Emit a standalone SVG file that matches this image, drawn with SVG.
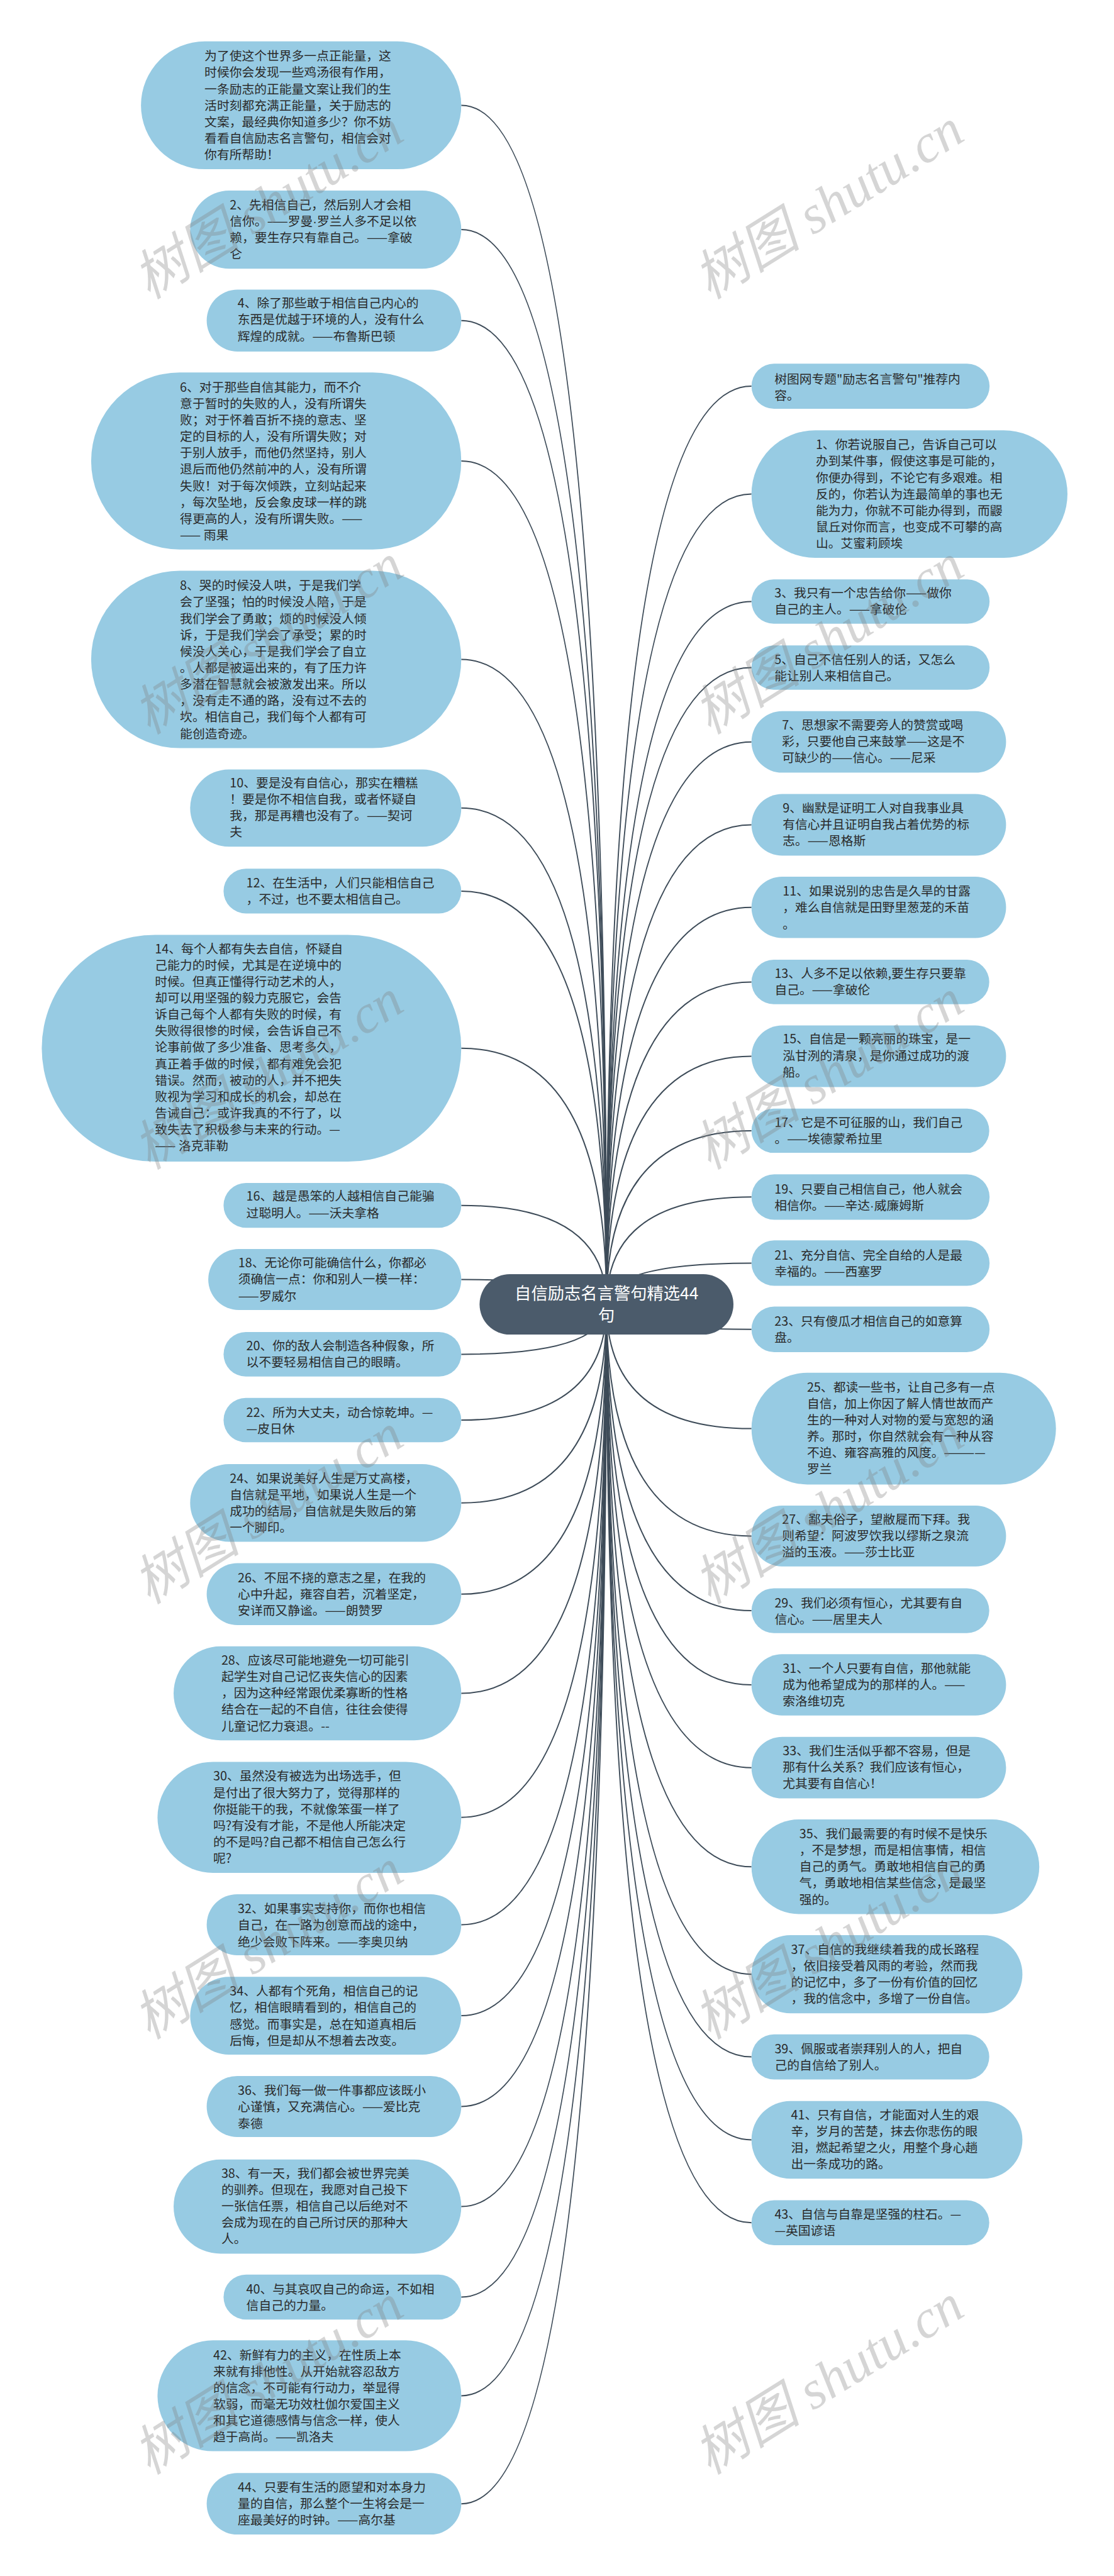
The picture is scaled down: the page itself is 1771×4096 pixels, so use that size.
<svg xmlns="http://www.w3.org/2000/svg" width="1771" height="4096" viewBox="0 0 1771 4096">
<style>
.n{fill:#97cbe3}
.c{fill:#4b5b6b}
.t{font-family:"Noto Sans CJK SC","Microsoft YaHei",sans-serif;font-size:19.8px;fill:#2a2a2a}
.ct{font-family:"Noto Sans CJK SC","Microsoft YaHei",sans-serif;font-size:26.3px;fill:#ffffff;text-anchor:middle}
.e{fill:none;stroke:#3d4b58;stroke-width:2}
.d{font-family:"Liberation Sans",sans-serif}
.wm{font-family:"Liberation Serif","Noto Sans CJK SC",serif;font-style:italic;font-size:86px;fill:#808080;fill-opacity:0.33}
</style>
<rect width="1771" height="4096" fill="#ffffff"/>
<g id="connectors">
<path class="e" d="M964.2 2074 Q964.2 167.4 733.3 167.4"/>
<path class="e" d="M964.2 2074 Q964.2 365.1 733.3 365.1"/>
<path class="e" d="M964.2 2074 Q964.2 509.7 733.3 509.7"/>
<path class="e" d="M964.2 2074 Q964.2 733 733.3 733"/>
<path class="e" d="M964.2 2074 Q964.2 1048.6 733.3 1048.6"/>
<path class="e" d="M964.2 2074 Q964.2 1284.8 733.3 1284.8"/>
<path class="e" d="M964.2 2074 Q964.2 1416.9 733.3 1416.9"/>
<path class="e" d="M964.2 2074 Q964.2 1666.8 733.3 1666.8"/>
<path class="e" d="M964.2 2074 Q964.2 1916.7 733.3 1916.7"/>
<path class="e" d="M964.2 2074 Q964.2 2034.6 733.3 2034.6"/>
<path class="e" d="M964.2 2074 Q964.2 2153.4 733.3 2153.4"/>
<path class="e" d="M964.2 2074 Q964.2 2258 733.3 2258"/>
<path class="e" d="M964.2 2074 Q964.2 2389.7 733.3 2389.7"/>
<path class="e" d="M964.2 2074 Q964.2 2534.8 733.3 2534.8"/>
<path class="e" d="M964.2 2074 Q964.2 2692.5 733.3 2692.5"/>
<path class="e" d="M964.2 2074 Q964.2 2889.7 733.3 2889.7"/>
<path class="e" d="M964.2 2074 Q964.2 3060.5 733.3 3060.5"/>
<path class="e" d="M964.2 2074 Q964.2 3205.1 733.3 3205.1"/>
<path class="e" d="M964.2 2074 Q964.2 3349.4 733.3 3349.4"/>
<path class="e" d="M964.2 2074 Q964.2 3508.6 733.3 3508.6"/>
<path class="e" d="M964.2 2074 Q964.2 3652.5 733.3 3652.5"/>
<path class="e" d="M964.2 2074 Q964.2 3809.4 733.3 3809.4"/>
<path class="e" d="M964.2 2074 Q964.2 3981.2 733.3 3981.2"/>
<path class="e" d="M964.2 2074 Q964.2 614.1 1194.7 614.1"/>
<path class="e" d="M964.2 2074 Q964.2 785.6 1194.7 785.6"/>
<path class="e" d="M964.2 2074 Q964.2 956.5 1194.7 956.5"/>
<path class="e" d="M964.2 2074 Q964.2 1061.5 1194.7 1061.5"/>
<path class="e" d="M964.2 2074 Q964.2 1179.7 1194.7 1179.7"/>
<path class="e" d="M964.2 2074 Q964.2 1311.5 1194.7 1311.5"/>
<path class="e" d="M964.2 2074 Q964.2 1442.8 1194.7 1442.8"/>
<path class="e" d="M964.2 2074 Q964.2 1561.4 1194.7 1561.4"/>
<path class="e" d="M964.2 2074 Q964.2 1679.6 1194.7 1679.6"/>
<path class="e" d="M964.2 2074 Q964.2 1797.9 1194.7 1797.9"/>
<path class="e" d="M964.2 2074 Q964.2 1903.3 1194.7 1903.3"/>
<path class="e" d="M964.2 2074 Q964.2 2008.5 1194.7 2008.5"/>
<path class="e" d="M964.2 2074 Q964.2 2113.7 1194.7 2113.7"/>
<path class="e" d="M964.2 2074 Q964.2 2271.6 1194.7 2271.6"/>
<path class="e" d="M964.2 2074 Q964.2 2442.4 1194.7 2442.4"/>
<path class="e" d="M964.2 2074 Q964.2 2561.1 1194.7 2561.1"/>
<path class="e" d="M964.2 2074 Q964.2 2679 1194.7 2679"/>
<path class="e" d="M964.2 2074 Q964.2 2810.7 1194.7 2810.7"/>
<path class="e" d="M964.2 2074 Q964.2 2968.3 1194.7 2968.3"/>
<path class="e" d="M964.2 2074 Q964.2 3139.2 1194.7 3139.2"/>
<path class="e" d="M964.2 2074 Q964.2 3270.6 1194.7 3270.6"/>
<path class="e" d="M964.2 2074 Q964.2 3402.5 1194.7 3402.5"/>
<path class="e" d="M964.2 2074 Q964.2 3534.3 1194.7 3534.3"/>
</g>
<g id="center">
<rect class="c" x="762.4" y="2026" width="403.6" height="96.1" rx="48" ry="48"/>
<text class="ct" x="964.2" y="2066.1">自信励志名言警句精选44<tspan x="964.2" dy="35">句</tspan></text>
</g>
<g id="intro">
<rect class="n" x="224.1" y="65.7" width="509.2" height="203.4" rx="101.7"/>
<text class="t" x="325.1" y="96.3">为了使这个世界多一点正能量，这<tspan x="325.1" dy="26.15">时候你会发现一些鸡汤很有作用，</tspan><tspan x="325.1" dy="26.15">一条励志的正能量文案让我们的生</tspan><tspan x="325.1" dy="26.15">活时刻都充满正能量，关于励志的</tspan><tspan x="325.1" dy="26.15">文案，最经典你知道多少？你不妨</tspan><tspan x="325.1" dy="26.15">看看自信励志名言警句，相信会对</tspan><tspan x="325.1" dy="26.15">你有所帮助！</tspan></text>
</g>
<g id="n2">
<rect class="n" x="302.3" y="303" width="431" height="124.2" rx="62.1"/>
<text class="t" x="365.3" y="332.8">2、先相信自己，然后别人才会相<tspan x="365.3" dy="26.15">信你。——罗曼<tspan class="d">·</tspan>罗兰人多不足以依</tspan><tspan x="365.3" dy="26.15">赖，要生存只有靠自己。——拿破</tspan><tspan x="365.3" dy="26.15">仑</tspan></text>
</g>
<g id="n4">
<rect class="n" x="328.6" y="460.4" width="404.7" height="98.6" rx="49.3"/>
<text class="t" x="377.7" y="489.2">4、除了那些敢于相信自己内心的<tspan x="377.7" dy="26.15">东西是优越于环境的人，没有什么</tspan><tspan x="377.7" dy="26.15">辉煌的成就。——布鲁斯巴顿</tspan></text>
</g>
<g id="n6">
<rect class="n" x="144.9" y="592.2" width="588.4" height="281.5" rx="140.7"/>
<text class="t" x="286.1" y="622.7">6、对于那些自信其能力，而不介<tspan x="286.1" dy="26.15">意于暂时的失败的人，没有所谓失</tspan><tspan x="286.1" dy="26.15">败；对于怀着百折不挠的意志、坚</tspan><tspan x="286.1" dy="26.15">定的目标的人，没有所谓失败；对</tspan><tspan x="286.1" dy="26.15">于别人放手，而他仍然坚持，别人</tspan><tspan x="286.1" dy="26.15">退后而他仍然前冲的人，没有所谓</tspan><tspan x="286.1" dy="26.15">失败！对于每次倾跌，立刻站起来</tspan><tspan x="286.1" dy="26.15">，每次坠地，反会象皮球一样的跳</tspan><tspan x="286.1" dy="26.15">得更高的人，没有所谓失败。——</tspan><tspan x="286.1" dy="26.15">—— 雨果</tspan></text>
</g>
<g id="n8">
<rect class="n" x="144.9" y="907.6" width="588.4" height="282" rx="141"/>
<text class="t" x="286.1" y="938.2">8、哭的时候没人哄，于是我们学<tspan x="286.1" dy="26.15">会了坚强；怕的时候没人陪，于是</tspan><tspan x="286.1" dy="26.15">我们学会了勇敢；烦的时候没人倾</tspan><tspan x="286.1" dy="26.15">诉，于是我们学会了承受；累的时</tspan><tspan x="286.1" dy="26.15">候没人关心，于是我们学会了自立</tspan><tspan x="286.1" dy="26.15">。人都是被逼出来的，有了压力许</tspan><tspan x="286.1" dy="26.15">多潜在智慧就会被激发出来。所以</tspan><tspan x="286.1" dy="26.15">，没有走不通的路，没有过不去的</tspan><tspan x="286.1" dy="26.15">坎。相信自己，我们每个人都有可</tspan><tspan x="286.1" dy="26.15">能创造奇迹。</tspan></text>
</g>
<g id="n10">
<rect class="n" x="302.3" y="1223.4" width="431" height="122.8" rx="61.4"/>
<text class="t" x="365.3" y="1251.5">10、要是没有自信心，那实在糟糕<tspan x="365.3" dy="26.15">！要是你不相信自我，或者怀疑自</tspan><tspan x="365.3" dy="26.15">我，那是再糟也没有了。——契诃</tspan><tspan x="365.3" dy="26.15">夫</tspan></text>
</g>
<g id="n12">
<rect class="n" x="355.4" y="1381.3" width="377.9" height="71.2" rx="35.6"/>
<text class="t" x="391.6" y="1410.7">12、在生活中，人们只能相信自己<tspan x="391.6" dy="26.15">，不过，也不要太相信自己。</tspan></text>
</g>
<g id="n14">
<rect class="n" x="66.4" y="1486.4" width="666.9" height="360.7" rx="180.3"/>
<text class="t" x="246.3" y="1515.5">14、每个人都有失去自信，怀疑自<tspan x="246.3" dy="26.15">己能力的时候，尤其是在逆境中的</tspan><tspan x="246.3" dy="26.15">时候。但真正懂得行动艺术的人，</tspan><tspan x="246.3" dy="26.15">却可以用坚强的毅力克服它，会告</tspan><tspan x="246.3" dy="26.15">诉自己每个人都有失败的时候，有</tspan><tspan x="246.3" dy="26.15">失败得很惨的时候，会告诉自己不</tspan><tspan x="246.3" dy="26.15">论事前做了多少准备、思考多久，</tspan><tspan x="246.3" dy="26.15">真正着手做的时候，都有难免会犯</tspan><tspan x="246.3" dy="26.15">错误。然而，被动的人，并不把失</tspan><tspan x="246.3" dy="26.15">败视为学习和成长的机会，却总在</tspan><tspan x="246.3" dy="26.15">告诫自己：或许我真的不行了，以</tspan><tspan x="246.3" dy="26.15">致失去了积极参与未来的行动。—</tspan><tspan x="246.3" dy="26.15">—— 洛克菲勒</tspan></text>
</g>
<g id="n16">
<rect class="n" x="355.4" y="1881" width="377.9" height="71.3" rx="35.6"/>
<text class="t" x="391.6" y="1909.4">16、越是愚笨的人越相信自己能骗<tspan x="391.6" dy="26.15">过聪明人。——沃夫拿格</tspan></text>
</g>
<g id="n18">
<rect class="n" x="331.1" y="1986.1" width="402.2" height="96.9" rx="48.4"/>
<text class="t" x="378.8" y="2015.3">18、无论你可能确信什么，你都必<tspan x="378.8" dy="26.15">须确信一点：你和别人一模一样：</tspan><tspan x="378.8" dy="26.15">——罗威尔</tspan></text>
</g>
<g id="n20">
<rect class="n" x="355.4" y="2118" width="377.9" height="70.8" rx="35.4"/>
<text class="t" x="391.6" y="2147.1">20、你的敌人会制造各种假象，所<tspan x="391.6" dy="26.15">以不要轻易相信自己的眼睛。</tspan></text>
</g>
<g id="n22">
<rect class="n" x="355.4" y="2222.8" width="377.9" height="70.5" rx="35.2"/>
<text class="t" x="391.6" y="2252.9">22、所为大丈夫，动合惊乾坤。—<tspan x="391.6" dy="26.15">—皮日休</tspan></text>
</g>
<g id="n24">
<rect class="n" x="302.3" y="2327.9" width="431" height="123.6" rx="61.8"/>
<text class="t" x="365.3" y="2357.7">24、如果说美好人生是万丈高楼，<tspan x="365.3" dy="26.15">自信就是平地，如果说人生是一个</tspan><tspan x="365.3" dy="26.15">成功的结局，自信就是失败后的第</tspan><tspan x="365.3" dy="26.15">一个脚印。</tspan></text>
</g>
<g id="n26">
<rect class="n" x="328.6" y="2485.6" width="404.7" height="98.3" rx="49.1"/>
<text class="t" x="378.1" y="2515.9">26、不屈不挠的意志之星，在我的<tspan x="378.1" dy="26.15">心中升起，雍容自若，沉着坚定，</tspan><tspan x="378.1" dy="26.15">安详而又静谧。——朗赞罗</tspan></text>
</g>
<g id="n28">
<rect class="n" x="276" y="2617.8" width="457.3" height="149.4" rx="74.7"/>
<text class="t" x="351.9" y="2646.9">28、应该尽可能地避免一切可能引<tspan x="351.9" dy="26.15">起学生对自己记忆丧失信心的因素</tspan><tspan x="351.9" dy="26.15">，因为这种经常跟优柔寡断的性格</tspan><tspan x="351.9" dy="26.15">结合在一起的不自信，往往会使得</tspan><tspan x="351.9" dy="26.15">儿童记忆力衰退。--</tspan></text>
</g>
<g id="n30">
<rect class="n" x="250.4" y="2801.4" width="482.9" height="176.5" rx="88.2"/>
<text class="t" x="339" y="2831.4">30、虽然没有被选为出场选手，但<tspan x="339" dy="26.15">是付出了很大努力了，觉得那样的</tspan><tspan x="339" dy="26.15">你挺能干的我，不就像笨蛋一样了</tspan><tspan x="339" dy="26.15">吗?有没有才能，不是他人所能决定</tspan><tspan x="339" dy="26.15">的不是吗?自己都不相信自己怎么行</tspan><tspan x="339" dy="26.15">呢?</tspan></text>
</g>
<g id="n32">
<rect class="n" x="328.6" y="3011.9" width="404.7" height="97.1" rx="48.5"/>
<text class="t" x="378.1" y="3042.3">32、如果事实支持你，而你也相信<tspan x="378.1" dy="26.15">自己，在一路为创意而战的途中，</tspan><tspan x="378.1" dy="26.15">绝少会败下阵来。——李奥贝纳</tspan></text>
</g>
<g id="n34">
<rect class="n" x="302.3" y="3143.3" width="431" height="123.6" rx="61.8"/>
<text class="t" x="365.3" y="3173.3">34、人都有个死角，相信自己的记<tspan x="365.3" dy="26.15">忆，相信眼睛看到的，相信自己的</tspan><tspan x="365.3" dy="26.15">感觉。而事实是，总在知道真相后</tspan><tspan x="365.3" dy="26.15">后悔，但是却从不想着去改变。</tspan></text>
</g>
<g id="n36">
<rect class="n" x="328.6" y="3300.9" width="404.7" height="97" rx="48.5"/>
<text class="t" x="378.1" y="3331.2">36、我们每一做一件事都应该既小<tspan x="378.1" dy="26.15">心谨慎，又充满信心。——爱比克</tspan><tspan x="378.1" dy="26.15">泰德</tspan></text>
</g>
<g id="n38">
<rect class="n" x="276" y="3433.7" width="457.3" height="149.8" rx="74.9"/>
<text class="t" x="351.9" y="3462.6">38、有一天，我们都会被世界完美<tspan x="351.9" dy="26.15">的驯养。但现在，我愿对自己投下</tspan><tspan x="351.9" dy="26.15">一张信任票，相信自己以后绝对不</tspan><tspan x="351.9" dy="26.15">会成为现在的自己所讨厌的那种大</tspan><tspan x="351.9" dy="26.15">人。</tspan></text>
</g>
<g id="n40">
<rect class="n" x="355.4" y="3616.7" width="377.9" height="71.5" rx="35.7"/>
<text class="t" x="391.6" y="3646.6">40、与其哀叹自己的命运，不如相<tspan x="391.6" dy="26.15">信自己的力量。</tspan></text>
</g>
<g id="n42">
<rect class="n" x="250.4" y="3721.2" width="482.9" height="176.4" rx="88.2"/>
<text class="t" x="339" y="3751.7">42、新鲜有力的主义，在性质上本<tspan x="339" dy="26.15">来就有排他性。从开始就容忍敌方</tspan><tspan x="339" dy="26.15">的信念，不可能有行动力，举显得</tspan><tspan x="339" dy="26.15">软弱，而毫无功效杜伽尔爱国主义</tspan><tspan x="339" dy="26.15">和其它道德感情与信念一样，使人</tspan><tspan x="339" dy="26.15">趋于高尚。——凯洛夫</tspan></text>
</g>
<g id="n44">
<rect class="n" x="328.6" y="3932.2" width="404.7" height="97.9" rx="48.9"/>
<text class="t" x="378.1" y="3962">44、只要有生活的愿望和对本身力<tspan x="378.1" dy="26.15">量的自信，那么整个一生将会是一</tspan><tspan x="378.1" dy="26.15">座最美好的时钟。——高尔基</tspan></text>
</g>
<g id="rintro">
<rect class="n" x="1194.7" y="578.3" width="378.5" height="71.6" rx="35.8"/>
<text class="t" x="1231.2" y="609.6">树图网专题"励志名言警句"推荐内<tspan x="1231.2" dy="26.15">容。</tspan></text>
</g>
<g id="r1">
<rect class="n" x="1194.7" y="684.2" width="502.3" height="202.7" rx="101.3"/>
<text class="t" x="1296.9" y="714.2">1、你若说服自己，告诉自己可以<tspan x="1296.9" dy="26.15">办到某件事，假使这事是可能的，</tspan><tspan x="1296.9" dy="26.15">你便办得到，不论它有多艰难。相</tspan><tspan x="1296.9" dy="26.15">反的，你若认为连最简单的事也无</tspan><tspan x="1296.9" dy="26.15">能为力，你就不可能办得到，而鼹</tspan><tspan x="1296.9" dy="26.15">鼠丘对你而言，也变成不可攀的高</tspan><tspan x="1296.9" dy="26.15">山。艾蜜莉顾埃</tspan></text>
</g>
<g id="r3">
<rect class="n" x="1194.7" y="921.2" width="378.5" height="70.6" rx="35.3"/>
<text class="t" x="1231.2" y="950.3">3、我只有一个忠告给你——做你<tspan x="1231.2" dy="26.15">自己的主人。——拿破伦</tspan></text>
</g>
<g id="r5">
<rect class="n" x="1194.7" y="1026.2" width="378.5" height="70.6" rx="35.3"/>
<text class="t" x="1231.2" y="1056.2">5、自己不信任别人的话，又怎么<tspan x="1231.2" dy="26.15">能让别人来相信自己。</tspan></text>
</g>
<g id="r7">
<rect class="n" x="1194.7" y="1130.8" width="404.7" height="97.8" rx="48.9"/>
<text class="t" x="1243.2" y="1159.9">7、思想家不需要旁人的赞赏或喝<tspan x="1243.2" dy="26.15">彩，只要他自己来鼓掌——这是不</tspan><tspan x="1243.2" dy="26.15">可缺少的——信心。——尼采</tspan></text>
</g>
<g id="r9">
<rect class="n" x="1194.7" y="1262.4" width="404.7" height="98.1" rx="49"/>
<text class="t" x="1244.2" y="1292">9、幽默是证明工人对自我事业具<tspan x="1244.2" dy="26.15">有信心并且证明自我占着优势的标</tspan><tspan x="1244.2" dy="26.15">志。——恩格斯</tspan></text>
</g>
<g id="r11">
<rect class="n" x="1194.7" y="1394" width="404.7" height="97.5" rx="48.7"/>
<text class="t" x="1244.2" y="1424.3">11、如果说别的忠告是久旱的甘露<tspan x="1244.2" dy="26.15">，难么自信就是田野里葱茏的禾苗</tspan><tspan x="1244.2" dy="26.15">。</tspan></text>
</g>
<g id="r13">
<rect class="n" x="1194.7" y="1526.1" width="378" height="70.6" rx="35.3"/>
<text class="t" x="1231.4" y="1554.9">13、人多不足以依赖,要生存只要靠<tspan x="1231.4" dy="26.15">自己。——拿破伦</tspan></text>
</g>
<g id="r15">
<rect class="n" x="1194.7" y="1630.6" width="404.7" height="98" rx="49"/>
<text class="t" x="1244.2" y="1659.4">15、自信是一颗亮丽的珠宝，是一<tspan x="1244.2" dy="26.15">泓甘洌的清泉，是你通过成功的渡</tspan><tspan x="1244.2" dy="26.15">船。</tspan></text>
</g>
<g id="r17">
<rect class="n" x="1194.7" y="1762.7" width="378" height="70.4" rx="35.2"/>
<text class="t" x="1231.4" y="1791.6">17、它是不可征服的山，我们自己<tspan x="1231.4" dy="26.15">。——埃德蒙希拉里</tspan></text>
</g>
<g id="r19">
<rect class="n" x="1194.7" y="1867.2" width="378.5" height="72.2" rx="36.1"/>
<text class="t" x="1231.2" y="1897.6">19、只要自己相信自己，他人就会<tspan x="1231.2" dy="26.15">相信你。——辛达<tspan class="d">·</tspan>威廉姆斯</tspan></text>
</g>
<g id="r21">
<rect class="n" x="1194.7" y="1972.3" width="378.5" height="72.3" rx="36.1"/>
<text class="t" x="1231.2" y="2002.8">21、充分自信、完全自给的人是最<tspan x="1231.2" dy="26.15">幸福的。——西塞罗</tspan></text>
</g>
<g id="r23">
<rect class="n" x="1194.7" y="2077.5" width="378.5" height="72.4" rx="36.2"/>
<text class="t" x="1231.2" y="2108">23、只有傻瓜才相信自己的如意算<tspan x="1231.2" dy="26.15">盘。</tspan></text>
</g>
<g id="r25">
<rect class="n" x="1194.7" y="2182.8" width="484" height="177.6" rx="88.8"/>
<text class="t" x="1282.9" y="2212.5">25、都读一些书，让自己多有一点<tspan x="1282.9" dy="26.15">自信，加上你因了解人情世故而产</tspan><tspan x="1282.9" dy="26.15">生的一种对人对物的爱与宽恕的涵</tspan><tspan x="1282.9" dy="26.15">养。那时，你自然就会有一种从容</tspan><tspan x="1282.9" dy="26.15">不迫、雍容高雅的风度。————</tspan><tspan x="1282.9" dy="26.15">罗兰</tspan></text>
</g>
<g id="r27">
<rect class="n" x="1194.7" y="2394.1" width="404.7" height="96.6" rx="48.3"/>
<text class="t" x="1243.2" y="2423">27、鄙夫俗子，望敝屣而下拜。我<tspan x="1243.2" dy="26.15">则希望：阿波罗饮我以缪斯之泉流</tspan><tspan x="1243.2" dy="26.15">溢的玉液。——莎士比亚</tspan></text>
</g>
<g id="r29">
<rect class="n" x="1194.7" y="2525.4" width="378" height="71.3" rx="35.6"/>
<text class="t" x="1231.4" y="2556">29、我们必须有恒心，尤其要有自<tspan x="1231.4" dy="26.15">信心。——居里夫人</tspan></text>
</g>
<g id="r31">
<rect class="n" x="1194.7" y="2630.2" width="404.7" height="97.6" rx="48.8"/>
<text class="t" x="1244.2" y="2660">31、一个人只要有自信，那他就能<tspan x="1244.2" dy="26.15">成为他希望成为的那样的人。——</tspan><tspan x="1244.2" dy="26.15">索洛维切克</tspan></text>
</g>
<g id="r33">
<rect class="n" x="1194.7" y="2761.7" width="404.7" height="97.9" rx="48.9"/>
<text class="t" x="1244.2" y="2790.8">33、我们生活似乎都不容易，但是<tspan x="1244.2" dy="26.15">那有什么关系？我们应该有恒心，</tspan><tspan x="1244.2" dy="26.15">尤其要有自信心！</tspan></text>
</g>
<g id="r35">
<rect class="n" x="1194.7" y="2893.1" width="457.5" height="150.4" rx="75.2"/>
<text class="t" x="1270.8" y="2922.9">35、我们最需要的有时候不是快乐<tspan x="1270.8" dy="26.15">，不是梦想，而是相信事情，相信</tspan><tspan x="1270.8" dy="26.15">自己的勇气。勇敢地相信自己的勇</tspan><tspan x="1270.8" dy="26.15">气，勇敢地相信某些信念，是最坚</tspan><tspan x="1270.8" dy="26.15">强的。</tspan></text>
</g>
<g id="r37">
<rect class="n" x="1194.7" y="3077.1" width="430.7" height="124.1" rx="62"/>
<text class="t" x="1257.5" y="3106.6">37、自信的我继续着我的成长路程<tspan x="1257.5" dy="26.15">，依旧接受着风雨的考验，然而我</tspan><tspan x="1257.5" dy="26.15">的记忆中，多了一份有价值的回忆</tspan><tspan x="1257.5" dy="26.15">，我的信念中，多增了一份自信。</tspan></text>
</g>
<g id="r39">
<rect class="n" x="1194.7" y="3234.8" width="378" height="71.6" rx="35.8"/>
<text class="t" x="1231.4" y="3264.7">39、佩服或者崇拜别人的人，把自<tspan x="1231.4" dy="26.15">己的自信给了别人。</tspan></text>
</g>
<g id="r41">
<rect class="n" x="1194.7" y="3340.7" width="430.7" height="123.6" rx="61.8"/>
<text class="t" x="1257.5" y="3369.6">41、只有自信，才能面对人生的艰<tspan x="1257.5" dy="26.15">辛，岁月的苦楚，抹去你悲伤的眼</tspan><tspan x="1257.5" dy="26.15">泪，燃起希望之火，用整个身心趟</tspan><tspan x="1257.5" dy="26.15">出一条成功的路。</tspan></text>
</g>
<g id="r43">
<rect class="n" x="1194.7" y="3498.4" width="378" height="71.7" rx="35.8"/>
<text class="t" x="1231.4" y="3527.6">43、自信与自靠是坚强的柱石。—<tspan x="1231.4" dy="26.15">—英国谚语</tspan></text>
</g>
<g id="watermarks">
<text class="wm" transform="translate(237 477) rotate(-32)">树图 shutu.cn</text>
<text class="wm" transform="translate(1128 477) rotate(-32)">树图 shutu.cn</text>
<text class="wm" transform="translate(237 1169) rotate(-32)">树图 shutu.cn</text>
<text class="wm" transform="translate(1128 1169) rotate(-32)">树图 shutu.cn</text>
<text class="wm" transform="translate(237 1861) rotate(-32)">树图 shutu.cn</text>
<text class="wm" transform="translate(1128 1861) rotate(-32)">树图 shutu.cn</text>
<text class="wm" transform="translate(237 2552) rotate(-32)">树图 shutu.cn</text>
<text class="wm" transform="translate(1128 2552) rotate(-32)">树图 shutu.cn</text>
<text class="wm" transform="translate(237 3244) rotate(-32)">树图 shutu.cn</text>
<text class="wm" transform="translate(1128 3244) rotate(-32)">树图 shutu.cn</text>
<text class="wm" transform="translate(237 3936) rotate(-32)">树图 shutu.cn</text>
<text class="wm" transform="translate(1128 3936) rotate(-32)">树图 shutu.cn</text>
</g>
</svg>
